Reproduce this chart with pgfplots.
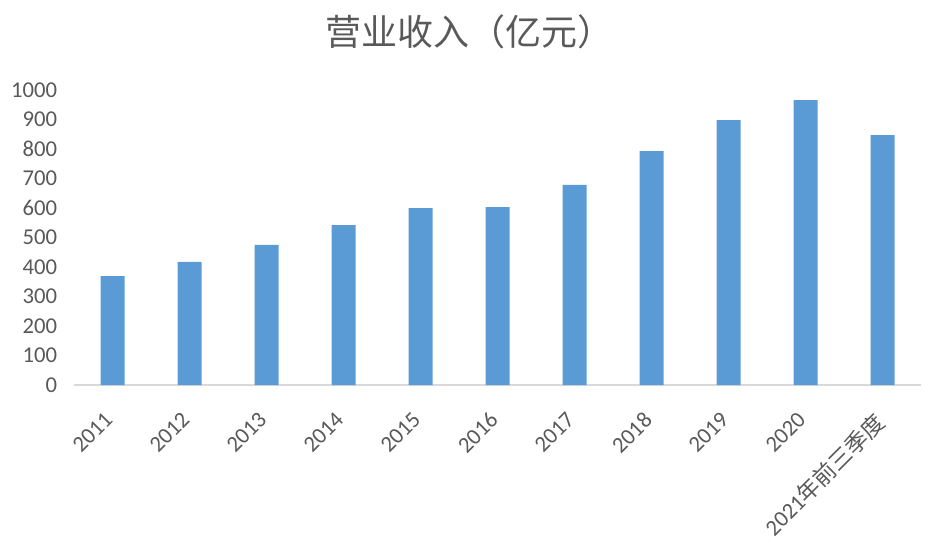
\documentclass[border=0pt]{standalone}
\usepackage{pgfplots}
\pgfplotsset{compat=1.18}
\usepackage{fontspec}
\setmainfont{Carlito}
\newfontfamily\cjk{Noto Sans CJK SC}
\definecolor{barblue}{HTML}{5B9BD5}
\definecolor{txtgray}{HTML}{595959}
\definecolor{axgray}{HTML}{D9D9D9}
\begin{document}
\begin{tikzpicture}
\useasboundingbox (0,0) rectangle (706.5pt,415.5pt);
\node[text=txtgray, font=\cjk\fontsize{27}{30}\selectfont] at (352pt,392pt) {营业收入（亿元）};
\begin{axis}[
    at={(55.5pt,126.75pt)}, anchor=south west,
    scale only axis,
    width=635.25pt, height=221.25pt,
    xmin=-0.5, xmax=10.5,
    ymin=0, ymax=1000,
    ytick={0,100,...,1000},
    xtick=data,
    xticklabels={2011,2012,2013,2014,2015,2016,2017,2018,2019,2020,{2021{\cjk 年前三季度}}},
    axis y line*=left,
    y axis line style={draw=none},
    axis x line*=bottom,
    x axis line style={draw=axgray, line width=1.5pt, -},
    major tick length=0pt,
    tick label style={text=txtgray, font=\fontsize{17}{20}\selectfont},
    /pgf/number format/assume math mode=true,
    /pgf/number format/1000 sep={},
    yticklabel style={anchor=east, inner sep=0pt, xshift=-12.5pt},
    xticklabel style={rotate=45, anchor=north east, inner sep=0pt, yshift=-8.7pt, xshift=-18.3pt},
    ]
    \addplot[ybar, bar width=18pt, fill=barblue, draw=none] coordinates {
        (0,369) (1,417) (2,475) (3,542) (4,600) (5,603)
        (6,678) (7,793) (8,898) (9,966) (10,847)
    };
\end{axis}
\end{tikzpicture}
\end{document}
